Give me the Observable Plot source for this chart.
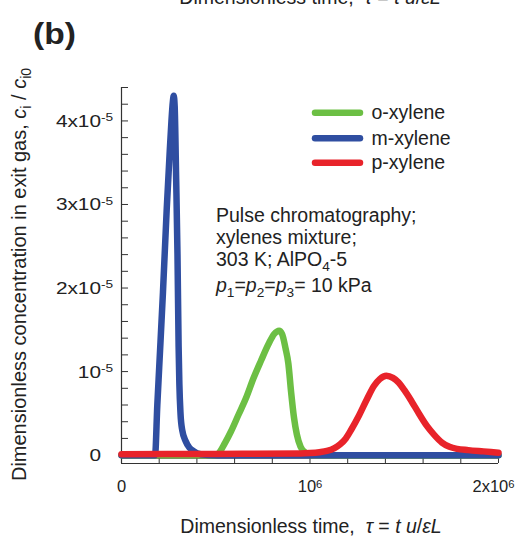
<!DOCTYPE html>
<html>
<head>
<meta charset="utf-8">
<script src="https://cdn.jsdelivr.net/npm/d3@7"></script>
<script src="https://cdn.jsdelivr.net/npm/@observablehq/plot@0.6"></script>
<style>
  body { margin: 0; background: #fff; }
  svg { display: block; }
</style>
</head>
<body>
<div id="chart"></div>
<script>
// ---------- data (tau in units of 1e6, concentration in units of 1e-5) ----------
const seriesNames = ["o-xylene", "m-xylene", "p-xylene"];
const seriesColors = ["#6cbf44", "#2f4ea1", "#e8232a"];

const oTau  = [0, 0.50, 0.51, 0.55, 0.58, 0.62, 0.66, 0.70, 0.74, 0.78, 0.81, 0.836, 0.852, 0.87, 0.885, 0.90, 0.915, 0.93, 0.95, 0.975, 1.00, 1.10, 2.00];
const oConc = [0, 0.00, 0.01, 0.15, 0.28, 0.48, 0.68, 0.92, 1.13, 1.33, 1.45, 1.49, 1.45, 1.28, 1.10, 0.75, 0.45, 0.25, 0.10, 0.03, 0.00, 0.00, 0.00];

const mTau  = [0, 0.10, 0.178, 0.19, 0.20, 0.22, 0.24, 0.255, 0.265, 0.272, 0.277, 0.282, 0.29, 0.297, 0.303, 0.307, 0.313, 0.322, 0.34, 0.36, 0.38, 0.42, 0.50, 1.00, 1.50, 2.00];
const mConc = [0, 0.00, 0.00, 0.60, 1.05, 1.95, 2.95, 3.60, 4.00, 4.22, 4.30, 4.18, 3.30, 2.40, 1.30, 0.85, 0.50, 0.30, 0.17, 0.09, 0.05, 0.01, 0.00, 0.00, 0.00, 0.00];

const pTau  = [0, 0.50, 0.95, 1.00, 1.05, 1.09, 1.13, 1.16, 1.19, 1.22, 1.26, 1.30, 1.34, 1.37, 1.405, 1.44, 1.47, 1.50, 1.54, 1.58, 1.62, 1.66, 1.70, 1.74, 1.78, 1.84, 1.92, 2.00];
const pConc = [0.01, 0.015, 0.02, 0.025, 0.035, 0.05, 0.085, 0.13, 0.20, 0.31, 0.475, 0.66, 0.83, 0.91, 0.95, 0.925, 0.87, 0.78, 0.64, 0.49, 0.35, 0.24, 0.15, 0.10, 0.075, 0.06, 0.045, 0.03];

const xDomain = [0, 2];
const yDomain = [-0.1, 4.4];
const xMinor = [0, 0.2, 0.4, 0.6, 0.8, 1.0, 1.2, 1.4, 1.6, 1.8, 2.0];
const xMajor = [0, 1, 2];
const xTickLabels = ["0", "10^6", "2x10^6"];
const yMinor = [0, 0.2, 0.4, 0.6, 0.8, 1.0, 1.2, 1.4, 1.6, 1.8, 2.0, 2.2, 2.4, 2.6, 2.8, 3.0, 3.2, 3.4, 3.6, 3.8, 4.0, 4.2, 4.4];
const yMajor = [0, 1, 2, 3, 4];
const yTickBase = ["0", "10", "2x10", "3x10", "4x10"];
const yTickSup = ["", "-5", "-5", "-5", "-5"];

// ---------- build table ----------
function toRows(name, tau, conc) {
  return tau.map((t, i) => ({series: name, tau: t, conc: conc[i]}));
}
const oRows = toRows("o-xylene", oTau, oConc);
const mRows = toRows("m-xylene", mTau, mConc);
const pRows = toRows("p-xylene", pTau, pConc);

const FONT = "'Liberation Sans', Arial, Helvetica, sans-serif";
const LW = 6.5;
const lineOpts = {x: "tau", y: "conc", stroke: "series", strokeWidth: LW, curve: "monotone-x", strokeLinecap: "round", strokeLinejoin: "round"};

const chart = Plot.plot({
  width: 522,
  height: 538,
  marginLeft: 121,
  marginRight: 24,
  marginTop: 87,
  marginBottom: 75,
  style: {fontFamily: FONT, background: "#fff", color: "#222"},
  x: {domain: xDomain},
  y: {domain: yDomain},
  color: {domain: seriesNames, range: seriesColors},
  marks: [
    Plot.ruleY([yDomain[0]], {stroke: "#333", strokeWidth: 1.2}),
    Plot.ruleY([yDomain[0]], {dy: -5, stroke: "#555", strokeWidth: 0.8}),
    Plot.ruleX([xDomain[0]], {stroke: "#333", strokeWidth: 1.2}),
    Plot.axisX(xMinor, {tickSize: 5, dy: -5, tickFormat: () => "", label: null, stroke: "#333"}),
    Plot.axisX(xMajor, {tickSize: 0, tickPadding: 17, tickFormat: d => xTickLabels[xMajor.indexOf(d)], label: null, fontSize: 16.5}),
    Plot.axisY(yMinor, {anchor: "left", tickSize: 7, dx: 7, tickFormat: () => "", label: null, stroke: "#333"}),
    Plot.line(oRows, lineOpts),
    Plot.line(mRows, lineOpts),
    Plot.line(pRows, lineOpts)
  ]
});

document.getElementById("chart").appendChild(chart);
const S = d3.select(chart);

// x tick superscripts
S.selectAll('g[aria-label="x-axis tick label"] text').each(function () {
  const s = this.textContent;
  if (s.includes("^")) {
    const [b, p] = s.split("^");
    const t = d3.select(this);
    t.text(b);
    t.append("tspan").attr("dy", -4).attr("font-size", "0.68em").text(p);
    if (b.includes("x")) t.attr("dx", -5);
  }
});

const ann = S.append("g").attr("font-family", FONT).attr("fill", "#222").attr("text-anchor", "start");

// y tick labels positioned through Plot's own y scale (glyphs a little wider, as in the reference)
const yScale = chart.scale("y");
const xLeft = chart.scale("x").apply(xDomain[0]);
yMajor.forEach((v, i) => {
  const g = ann.append("g").attr("transform", `translate(${xLeft - 20},${yScale.apply(v)}) scale(1.3,1)`);
  g.append("text").attr("text-anchor", "end").attr("y", 6.5).attr("font-size", 16).text(yTickBase[i]);
  if (yTickSup[i]) g.append("text").attr("text-anchor", "start").attr("y", 0.8).attr("font-size", 10.5).text(yTickSup[i]);
});

// rich text helper
function rich(sel, parts) {
  let cur = 0;
  parts.forEach(p => {
    const o = typeof p === "string" ? {t: p} : p;
    const want = o.sub ? 5 : o.sup ? -7 : 0;
    const ts = sel.append("tspan").text(o.t);
    if (want !== cur) ts.attr("dy", want - cur);
    cur = want;
    if (o.sub || o.sup) ts.attr("font-size", "0.7em");
    if (o.it) ts.attr("font-style", "italic");
  });
}

// legend
seriesNames.forEach((name, i) => {
  const cy = [112.7, 138.3, 162.7][i];
  ann.append("line").attr("x1", 315).attr("x2", 360).attr("y1", cy).attr("y2", cy)
    .attr("stroke", seriesColors[i]).attr("stroke-width", 6.5).attr("stroke-linecap", "round");
  ann.append("text").attr("x", 371.5).attr("y", cy + 6.5).attr("font-size", 19.5).text(name);
});

// annotation block
const annLines = [
  ["Pulse chromatography;"],
  ["xylenes mixture;"],
  ["303 K; AlPO", {t: "4", sub: true}, "-5"],
  [{t: "p", it: true}, {t: "1", sub: true}, "=", {t: "p", it: true}, {t: "2", sub: true}, "=", {t: "p", it: true}, {t: "3", sub: true}, "= 10 kPa"]
];
const annY = [221.5, 244, 266, 292];
annLines.forEach((parts, i) => {
  rich(ann.append("text").attr("x", 216).attr("y", annY[i]).attr("font-size", 19.5), parts);
});

// axis titles
const timeTitle = ["Dimensionless time,  ", {t: "τ", it: true}, " = ", {t: "t u", it: true}, "/", {t: "εL", it: true}];
rich(ann.append("text").attr("x", 311).attr("y", 533).attr("text-anchor", "middle").attr("font-size", 19.5), timeTitle);
rich(ann.append("text").attr("x", 310).attr("y", 4).attr("text-anchor", "middle").attr("font-size", 19.5), timeTitle);

rich(ann.append("text").attr("transform", "translate(25.5,274.5) rotate(-90)").attr("text-anchor", "middle").attr("font-size", 20),
  ["Dimensionless concentration in exit gas, ", {t: "c", it: true}, {t: "i", sub: true}, " / ", {t: "c", it: true}, {t: "i0", sub: true}]);

// panel letter
ann.append("text").attr("transform", "translate(33,43.5) scale(1.12,1)").attr("font-size", 30).attr("font-weight", "bold").text("(b)");
</script>
</body>
</html>
